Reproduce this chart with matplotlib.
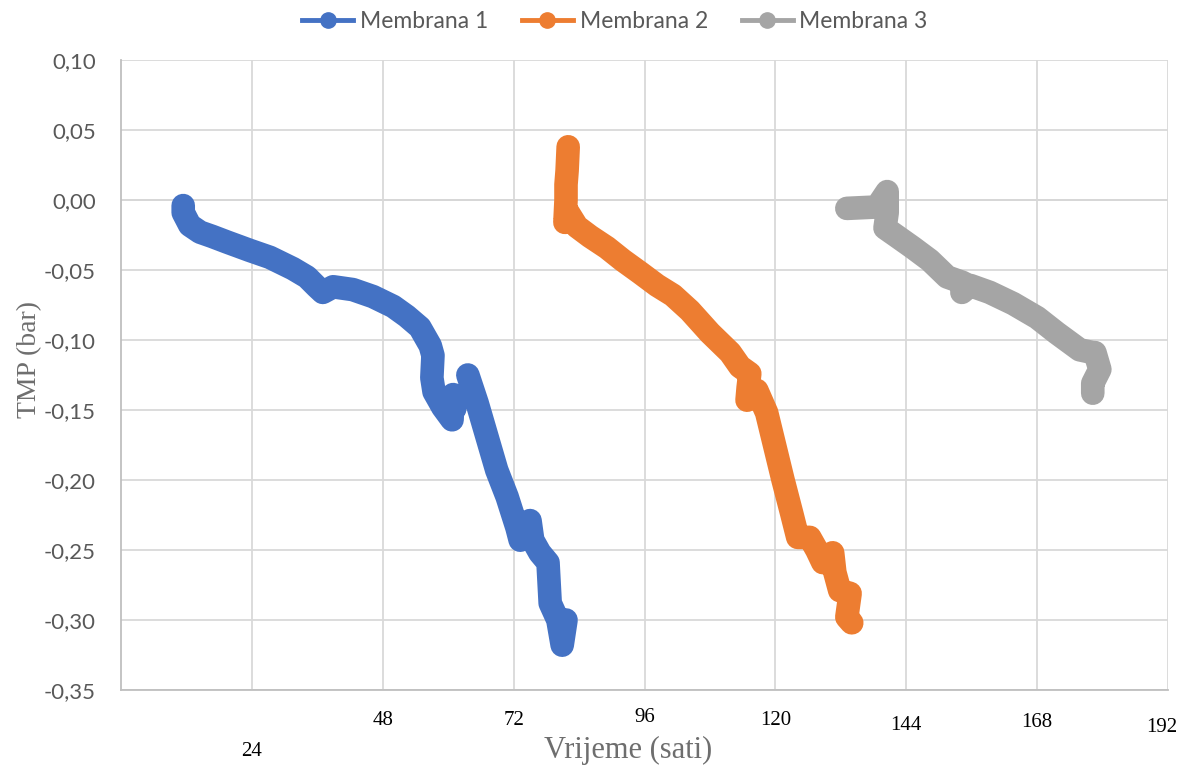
import numpy as np
import matplotlib
matplotlib.use("Agg")
import matplotlib.pyplot as plt
from matplotlib.lines import Line2D

# Membrana 1 (nan = gap in the record)
m1_t = [11.4, 11.4, 12.6, 14.5, 16.7, 19.4, 23.6, 27.3, 31.5, 34.1, 35.9, 37.0,
        38.9, 42.5, 46.2, 49.9, 52.4, 54.8, 56.7, 57.2, 57.0, 57.4, 59.0, 60.7,
        60.9, 61.2, np.nan,
        63.6, 65.3, 67.1, 68.9, 70.8, 72.6, 73.2, 75.0, 75.5, 76.8, 78.3, 78.7,
        80.1, 80.9, 81.6]
m1_v = [-0.004, -0.009, -0.018, -0.023, -0.026, -0.030, -0.036, -0.041, -0.049,
        -0.055, -0.062, -0.066, -0.062, -0.064, -0.069, -0.076, -0.083, -0.091,
        -0.104, -0.111, -0.127, -0.137, -0.148, -0.157, -0.139, -0.149, np.nan,
        -0.125, -0.145, -0.169, -0.193, -0.212, -0.234, -0.243, -0.229, -0.243,
        -0.252, -0.259, -0.288, -0.300, -0.318, -0.300]

# Membrana 2
m2_t = [82.0, 81.8, 81.6, 81.6, 81.4, 82.0, 83.6, 86.0, 89.1, 92.0, 95.2, 98.3,
        101.2, 104.3, 108.0, 111.7, 113.5, 115.3, 115.0, 114.8, 116.6, 118.4,
        119.9, 121.4, 123.0, 124.1, 126.3, 127.6, 128.7, 130.5, 130.9, 131.8,
        133.7, 133.1, 134.0]
m2_v = [0.038, 0.021, 0.011, 0.000, -0.016, -0.009, -0.019, -0.026, -0.034,
        -0.043, -0.052, -0.061, -0.068, -0.079, -0.095, -0.109, -0.119, -0.124,
        -0.134, -0.143, -0.136, -0.152, -0.176, -0.200, -0.224, -0.241, -0.241,
        -0.250, -0.259, -0.252, -0.266, -0.279, -0.281, -0.298, -0.302]

# Membrana 3
m3_t = [133.1, 138.6, 140.5, 140.5, 140.1, 142.3, 145.2, 148.3, 151.5, 154.4,
        154.2, 155.7, 159.3, 163.6, 168.0, 171.6, 175.8, 178.2, 178.6, 179.5,
        178.2, 178.2]
m3_v = [-0.006, -0.005, 0.006, -0.009, -0.020, -0.026, -0.034, -0.043, -0.055,
        -0.059, -0.066, -0.061, -0.066, -0.074, -0.084, -0.095, -0.107, -0.109,
        -0.109, -0.121, -0.131, -0.138]

series_names = ["Membrana 1", "Membrana 2", "Membrana 3"]
colors = ["#4472C4", "#ED7D31", "#A5A5A5"]

x_ticks = [24, 48, 72, 96, 120, 144, 168, 192]
# vertical offset of each x label (axes fraction), they sit unevenly
x_label_y = [-0.098, -0.048, -0.048, -0.043, -0.048, -0.057, -0.051, -0.060]
y_ticks = [-0.35, -0.30, -0.25, -0.20, -0.15, -0.10, -0.05, 0.0, 0.05, 0.10]

fig = plt.figure(figsize=(11.81, 7.67), dpi=100)
ax = fig.add_axes([0.1025, 0.1004, 0.8865, 0.8214])

for t, v, c in zip([m1_t, m2_t, m3_t], [m1_v, m2_v, m3_v], colors):
    ax.plot(t, v, color=c, lw=17, solid_capstyle="round",
            solid_joinstyle="round", marker="o", ms=14, mec=c, mfc=c, zorder=3)

ax.set_xlim(0, 192)
ax.set_ylim(-0.35, 0.10)
ax.set_xticks(x_ticks)
ax.set_xticklabels([])
ax.set_yticks(y_ticks)
ax.set_yticklabels([f"{v:.2f}".replace(".", ",").replace("-0,00", "0,00") for v in y_ticks],
                   fontsize=16, color="#595959", family="Lato")
ax.tick_params(axis="both", length=0)
ax.tick_params(axis="y", pad=18)
ax.grid(True, color="#d9d9d9", lw=1.3, zorder=0)
ax.axhline(0, color="#c8c8c8", lw=1.3, zorder=1)
for s in ["top", "right"]:
    ax.spines[s].set_visible(False)
for s in ["left", "bottom"]:
    ax.spines[s].set_color("#bfbfbf")
    ax.spines[s].set_linewidth(1.3)

for xt, yy in zip(x_ticks, x_label_y):
    ax.text(xt if xt < 192 else 190.8, yy, str(xt), transform=ax.get_xaxis_transform(),
            ha="center", va="center", fontsize=15, family="Liberation Serif", color="black")

fig.text(628 / 1181, 1 - 750 / 767, "Vrijeme (sati)", ha="center", va="center",
         fontsize=22, family="Liberation Serif", color="#6e6e6e")
fig.text(30 / 1181, 1 - 360 / 767, "TMP (bar)", ha="center", va="center", rotation=90,
         fontsize=20, family="Liberation Serif", color="#6e6e6e")

handles = [Line2D([0], [0], color=c, lw=3.5, marker="o", ms=11) for c in colors]
leg = fig.legend(handles, series_names, loc="center", bbox_to_anchor=(615 / 1181, 1 - 22 / 767),
                 ncol=3, frameon=False, handlelength=2.2, handletextpad=0.3,
                 columnspacing=1.5, prop={"family": "Lato", "size": 16.5})
for txt in leg.get_texts():
    txt.set_color("#595959")

fig.savefig("out.png", dpi=100)
